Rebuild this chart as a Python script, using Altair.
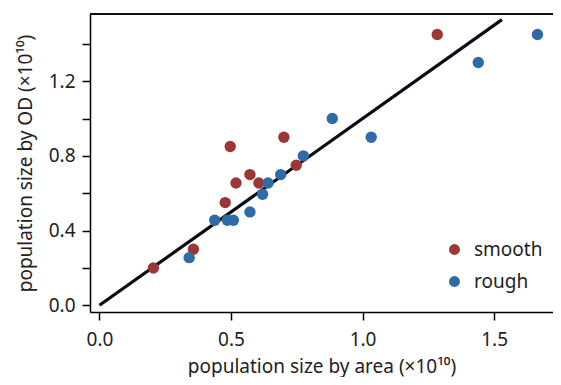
import altair as alt
import pandas as pd

# data
smooth_x = [0.205, 0.357, 0.478, 0.497, 0.519, 0.572, 0.606, 0.701, 0.748, 1.284]
smooth_y = [0.20, 0.30, 0.55, 0.85, 0.655, 0.70, 0.655, 0.90, 0.75, 1.45]
rough_x = [0.341, 0.438, 0.486, 0.509, 0.572, 0.620, 0.641, 0.689, 0.775, 0.885, 1.033, 1.440, 1.665]
rough_y = [0.255, 0.455, 0.455, 0.455, 0.50, 0.595, 0.655, 0.70, 0.80, 1.00, 0.90, 1.30, 1.45]
line_x = [0.0, 1.53]
line_y = [0.0, 1.53]
groups = ["smooth", "rough"]
colors = ["#9b3836", "#2f6ca6"]
x_ticks = [0.0, 0.5, 1.0, 1.5]
y_ticks = [0.0, 0.2, 0.4, 0.6, 0.8, 1.0, 1.2, 1.4]

pts = pd.DataFrame({
    "x": smooth_x + rough_x,
    "y": smooth_y + rough_y,
    "g": ["smooth"] * len(smooth_x) + ["rough"] * len(rough_x),
})
ln = pd.DataFrame({"x": line_x, "y": line_y})

W, H = 463, 298
FONT = "Noto Sans"
TXT = "#222222"
FS = 19

xs = alt.Scale(domain=[-0.036, 1.724], nice=False, zero=False)
ys = alt.Scale(domain=[-0.036, 1.56], nice=False, zero=False)

x_axis = alt.Axis(
    values=x_ticks, format=".1f", grid=False, tickSize=8, tickWidth=1.5,
    domainWidth=1.5, domainColor="black", tickColor="black",
    labelFont=FONT, labelFontSize=FS, labelColor=TXT, labelPadding=10,
    title="population size by area (×10¹⁰)", titleFont=FONT, titleFontSize=FS,
    titleFontWeight="normal", titleColor=TXT, titleY=54, titleBaseline="middle",
)
y_axis = alt.Axis(
    values=y_ticks, grid=False, tickSize=8, tickWidth=1.5,
    labelExpr="(round(datum.value*10) % 4 == 0) ? format(datum.value, '.1f') : ''",
    domainWidth=1.5, domainColor="black", tickColor="black",
    labelFont=FONT, labelFontSize=FS, labelColor=TXT, labelPadding=7,
    title="population size by OD (×10¹⁰)", titleFont=FONT, titleFontSize=FS,
    titleFontWeight="normal", titleColor=TXT, titleX=-65, titleY=H / 2,
    titleBaseline="middle", titleAlign="center", titleAngle=-90,
)

line = alt.Chart(ln).mark_line(color="#0a0a14", strokeWidth=3.2).encode(
    x=alt.X("x:Q", scale=xs, axis=x_axis),
    y=alt.Y("y:Q", scale=ys, axis=y_axis),
)

points = alt.Chart(pts).mark_circle(size=130, opacity=1).encode(
    x=alt.X("x:Q", scale=xs),
    y=alt.Y("y:Q", scale=ys),
    color=alt.Color(
        "g:N",
        scale=alt.Scale(domain=groups, range=colors),
        legend=alt.Legend(
            title=None, orient="none", legendX=355, legendY=226,
            labelFont=FONT, labelFontSize=FS, labelColor=TXT,
            symbolType="circle", symbolSize=120, symbolStrokeWidth=0,
            rowPadding=12, labelOffset=10,
        ),
    ),
)

top = alt.Chart(ln).mark_rule(color="black", strokeWidth=1.5).encode(
    x=alt.value(0), x2=alt.value(W), y=alt.value(0)
)

chart = alt.layer(line, points, top).properties(
    width=W, height=H,
    autosize=alt.AutoSizeParams(type="none"),
    padding={"left": 82, "top": 6, "right": 0, "bottom": 65},
).configure_view(stroke=None).configure(background="white")

chart.save("out.html", embed_options={"renderer": "svg", "actions": False})
